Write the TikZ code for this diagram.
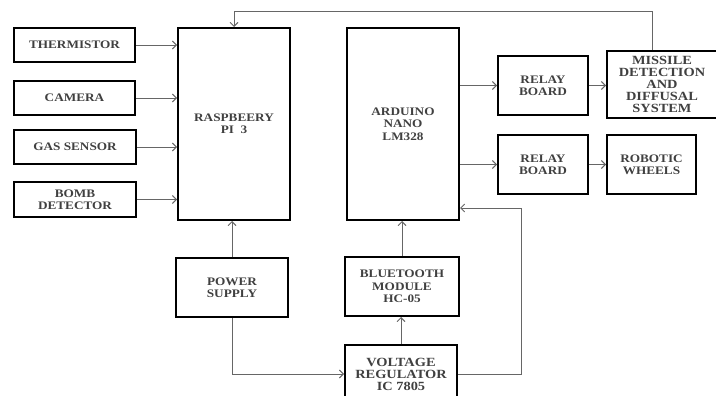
\documentclass[tikz,border=0pt]{standalone}
\usepackage{fontspec}
\setmainfont[FakeStretch=1.15]{Liberation Serif}
\usetikzlibrary{arrows.meta}
\begin{document}
\begin{tikzpicture}[x=1pt,y=-1pt,
  box/.style={draw=black,line width=2pt,align=center,inner sep=1pt,
    font=\fontsize{11.5}{12.3}\selectfont\bfseries,text=black!75},
  big/.style={font=\fontsize{12.5}{12}\selectfont\bfseries},
  arr/.style={draw=black!60,line width=0.9pt,-{Straight Barb[length=4pt,width=8pt]}},
  ln/.style={draw=black!60,line width=0.9pt}]
\useasboundingbox (0,0) rectangle (716,396);
\clip (0,0) rectangle (716,396);
\node[box,minimum width=121,minimum height=34] (therm) at (74.5,45) {THERMISTOR};
\node[box,minimum width=121,minimum height=34] (cam) at (74.5,98) {CAMERA};
\node[box,minimum width=122,minimum height=34] (gas) at (75,147) {GAS SENSOR};
\node[box,minimum width=122,minimum height=35] (bomb) at (75,199.5) {BOMB\\DETECTOR};
\node[box,minimum width=112,minimum height=192] (rpi) at (234,124) {RASPBEERY\\PI\ \ 3};
\node[box,minimum width=112,minimum height=192] (ard) at (403,124) {ARDUINO\\NANO\\LM328};
\node[box,minimum width=90,minimum height=59] (rel1) at (543,85.5) {RELAY\\BOARD};
\node[box,big,minimum width=110,minimum height=67] (mis) at (662,84.5) {MISSILE\\DETECTION\\AND\\DIFFUSAL\\SYSTEM};
\node[box,minimum width=90,minimum height=59] (rel2) at (543,164.5) {RELAY\\BOARD};
\node[box,minimum width=89,minimum height=59] (whl) at (651.5,164.5) {ROBOTIC\\WHEELS};
\node[box,minimum width=112,minimum height=59] (pow) at (232,287.5) {POWER\\SUPPLY};
\node[box,minimum width=114,minimum height=59] (bt) at (402,286.5) {BLUETOOTH\\MODULE\\HC-05};
\node[box,big,minimum width=112,minimum height=58] (vr) at (401,374) {VOLTAGE\\REGULATOR\\IC 7805};
\coordinate (fb) at (652,11);
\coordinate (fr) at (521,208);
\draw[arr] (therm.east) -- (therm.east -| rpi.west);
\draw[arr] (cam.east) -- (cam.east -| rpi.west);
\draw[arr] (gas.east) -- (gas.east -| rpi.west);
\draw[arr] (bomb.east) -- (bomb.east -| rpi.west);
\draw[arr] (rel1.west -| ard.east) -- (rel1.west);
\draw[arr] (rel1.east) -- (rel1.east -| mis.west);
\draw[arr] (rel2.west -| ard.east) -- (rel2.west);
\draw[arr] (rel2.east) -- (whl.west);
\draw[arr] (mis.north -| fb) -- (fb) -| (rpi.north);
\draw[arr] (pow.north) -- (pow.north |- rpi.south);
\draw[arr] (pow.south) |- (vr.west);
\draw[arr] (vr.north) -- (vr.north |- bt.south);
\draw[arr] (bt.north) -- (bt.north |- ard.south);
\draw[arr] (vr.east) -| (fr) -- (fr -| ard.east);
\end{tikzpicture}
\end{document}
